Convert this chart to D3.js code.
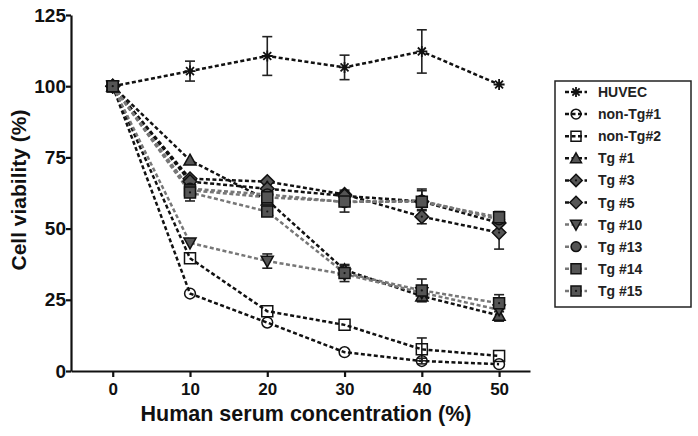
<!DOCTYPE html>
<html>
<head>
<meta charset="utf-8">
<script src="https://cdn.jsdelivr.net/npm/d3@7"></script>
<style>
  body { margin: 0; background: #fff; }
  svg { font-family: "Liberation Sans", Arial, sans-serif; }
</style>
</head>
<body>
<div id="chart"></div>
<script>
// data
const concentrations = [0, 10, 20, 30, 40, 50];
const seriesNames = ["HUVEC", "non-Tg#1", "non-Tg#2", "Tg #1", "Tg #3", "Tg #5", "Tg #10", "Tg #13", "Tg #14", "Tg #15"];

const huvec    = [100, 105.3, 110.6, 106.6, 112.2, 100.6];
const huvecErr = [0, 3.5, 6.8, 4.3, 7.6, 0];
const nonTg1    = [100, 27.2, 17, 6.6, 3.5, 2.4];
const nonTg1Err = [0, 0, 0, 0, 1, 0];
const nonTg2    = [100, 39.6, 21, 16.2, 7.6, 5.3];
const nonTg2Err = [0, 0, 0, 0, 4, 0];
const tg1    = [100, 74, 60, 35.5, 26.3, 19.5];
const tg1Err = [0, 0, 0, 1.5, 1, 2];
const tg3    = [100, 67.5, 66.5, 62, 54.2, 48.6];
const tg3Err = [0, 0, 0, 1.5, 2.5, 5.8];
const tg5    = [100, 66.5, 64, 61.5, 59.5, 52];
const tg5Err = [0, 0, 0, 0, 0, 0];
const tg10    = [100, 45, 38.6, 34, 27.5, 21.5];
const tg10Err = [0, 0, 2.5, 0, 0, 0];
const tg13    = [100, 64, 62, 59.3, 59.8, 53.2];
const tg13Err = [0, 0, 0, 3.5, 3.5, 2];
const tg14    = [100, 63.5, 61, 59.5, 59.4, 54];
const tg14Err = [0, 0, 0, 0, 4.5, 2];
const tg15    = [100, 62.7, 56, 34.4, 28.3, 23.8];
const tg15Err = [0, 3, 0, 3, 4, 3];

const xTicks = [0, 10, 20, 30, 40, 50];
const yTicks = [0, 25, 50, 75, 100, 125];

const seriesValues = [huvec, nonTg1, nonTg2, tg1, tg3, tg5, tg10, tg13, tg14, tg15];
const seriesErrors = [huvecErr, nonTg1Err, nonTg2Err, tg1Err, tg3Err, tg5Err, tg10Err, tg13Err, tg14Err, tg15Err];

// styles per series: marker shape, fill, dot inside, line colour
const styles = [
    {shape: "asterisk", fill: "none", dot: false, line: "#111"},
    {shape: "circle", fill: "none", dot: false, line: "#111"},
    {shape: "square", fill: "none", dot: false, line: "#111"},
    {shape: "triangle", fill: "#555", dot: false, line: "#111"},
    {shape: "diamond", fill: "#555", dot: true, line: "#111"},
    {shape: "diamond", fill: "#555", dot: false, line: "#111"},
    {shape: "triangleDown", fill: "#555", dot: false, line: "#777"},
    {shape: "circle", fill: "#555", dot: false, line: "#777"},
    {shape: "square", fill: "#555", dot: false, line: "#777"},
    {shape: "square", fill: "#555", dot: true, line: "#777"}
];

const W = 698, H = 436;
const svg = d3.select("#chart").append("svg")
    .attr("width", W)
    .attr("height", H);

const x = d3.scaleLinear().domain([-5.4, 54]).range([71, 530]);
const y = d3.scaleLinear().domain([0, 125]).range([371, 15]);

// marker path helper
function markerPath(shape, s) {
    if (shape === "circle") return d3.symbol(d3.symbolCircle, s * s * 0.75)();
    if (shape === "square") {
        let h = s / 2;
        return `M${-h},${-h}H${h}V${h}H${-h}Z`;
    }
    if (shape === "diamond") {
        let h = s * 0.62;
        return `M0,${-h}L${h},0L0,${h}L${-h},0Z`;
    }
    if (shape === "triangle") {
        let h = s * 0.55;
        return `M0,${-h}L${h},${h * 0.8}L${-h},${h * 0.8}Z`;
    }
    if (shape === "triangleDown") {
        let h = s * 0.55;
        return `M0,${h}L${h},${-h * 0.8}L${-h},${-h * 0.8}Z`;
    }
    if (shape === "asterisk") {
        let h = s / 2;
        let d = h * 0.72;
        return `M0,${-h}V${h}M${-h},0H${h}M${-d},${-d}L${d},${d}M${-d},${d}L${d},${-d}`;
    }
}

function drawMarker(g, st, size) {
    g.append("path")
        .attr("d", markerPath(st.shape, size))
        .attr("fill", st.fill)
        .attr("stroke", "#111")
        .attr("stroke-width", st.shape === "asterisk" ? 1.8 : 1.5);
    if (st.dot) {
        g.append("circle").attr("r", 1.1).attr("fill", "#111");
    }
}

const line = d3.line()
    .x((d, i) => x(concentrations[i]))
    .y(d => y(d));

// lines
seriesValues.forEach((vals, k) => {
    svg.append("path")
        .datum(vals)
        .attr("d", line)
        .attr("fill", "none")
        .attr("stroke", styles[k].line)
        .attr("stroke-width", 2.5)
        .attr("stroke-dasharray", "4,2.5");
});

// error bars
seriesValues.forEach((vals, k) => {
    let errs = seriesErrors[k];
    vals.forEach((v, i) => {
        if (!errs[i]) return;
        let cx = x(concentrations[i]);
        let g = svg.append("g").attr("stroke", "#222").attr("stroke-width", 1.6);
        g.append("line").attr("x1", cx).attr("x2", cx).attr("y1", y(v - errs[i])).attr("y2", y(v + errs[i]));
        [v - errs[i], v + errs[i]].forEach(e => {
            g.append("line").attr("x1", cx - 5).attr("x2", cx + 5).attr("y1", y(e)).attr("y2", y(e));
        });
    });
});

// markers
seriesValues.forEach((vals, k) => {
    vals.forEach((v, i) => {
        let g = svg.append("g").attr("transform", `translate(${x(concentrations[i])},${y(v)})`);
        drawMarker(g, styles[k], 11);
    });
});

// axes
const xAxis = d3.axisBottom(x).tickValues(xTicks).tickSize(6).tickPadding(4).tickSizeOuter(0);
const yAxis = d3.axisLeft(y).tickValues(yTicks).tickSize(5).tickPadding(0).tickSizeOuter(0);

const gx = svg.append("g").attr("transform", `translate(0,${y(0)})`).call(xAxis);
const gy = svg.append("g").attr("transform", `translate(${x(-5.4)},0)`).call(yAxis);

[gx, gy].forEach(g => {
    g.select(".domain").attr("stroke", "#111").attr("stroke-width", 2.2);
    g.selectAll(".tick line").attr("stroke", "#111").attr("stroke-width", 2.2);
    g.selectAll(".tick text")
        .attr("fill", "#111")
        .style("font-weight", "bold")
        .style("font-family", "'Liberation Sans', Arial, sans-serif");
});
gx.selectAll(".tick text").style("font-size", "17px").attr("dy", "0.8em");
gy.selectAll(".tick text").style("font-size", "19px").attr("dx", "0px");

// axis titles
svg.append("text")
    .attr("x", 306)
    .attr("y", 421)
    .attr("text-anchor", "middle")
    .style("font-size", "21.5px")
    .style("font-weight", "bold")
    .attr("fill", "#111")
    .text("Human serum concentration (%)");

svg.append("text")
    .attr("transform", `translate(26,190) rotate(-90)`)
    .attr("text-anchor", "middle")
    .style("font-size", "21px")
    .style("font-weight", "bold")
    .attr("fill", "#111")
    .text("Cell viability (%)");

// legend
const legend = svg.append("g");
legend.append("rect")
    .attr("x", 555).attr("y", 81)
    .attr("width", 136).attr("height", 226)
    .attr("fill", "#fff")
    .attr("stroke", "#222")
    .attr("stroke-width", 1.5);

seriesNames.forEach((name, k) => {
    let ly = 92 + k * 22.1;
    let st = styles[k];
    legend.append("line")
        .attr("x1", 565).attr("x2", 587)
        .attr("y1", ly).attr("y2", ly)
        .attr("stroke", st.line)
        .attr("stroke-width", 2.5)
        .attr("stroke-dasharray", "4,2.5");
    let g = legend.append("g").attr("transform", `translate(576,${ly})`);
    drawMarker(g, st, 10);
    legend.append("text")
        .attr("x", 598).attr("y", ly)
        .attr("dy", "0.36em")
        .style("font-size", "14px")
        .style("font-weight", "bold")
        .attr("fill", "#222")
        .text(name);
});
</script>
</body>
</html>
